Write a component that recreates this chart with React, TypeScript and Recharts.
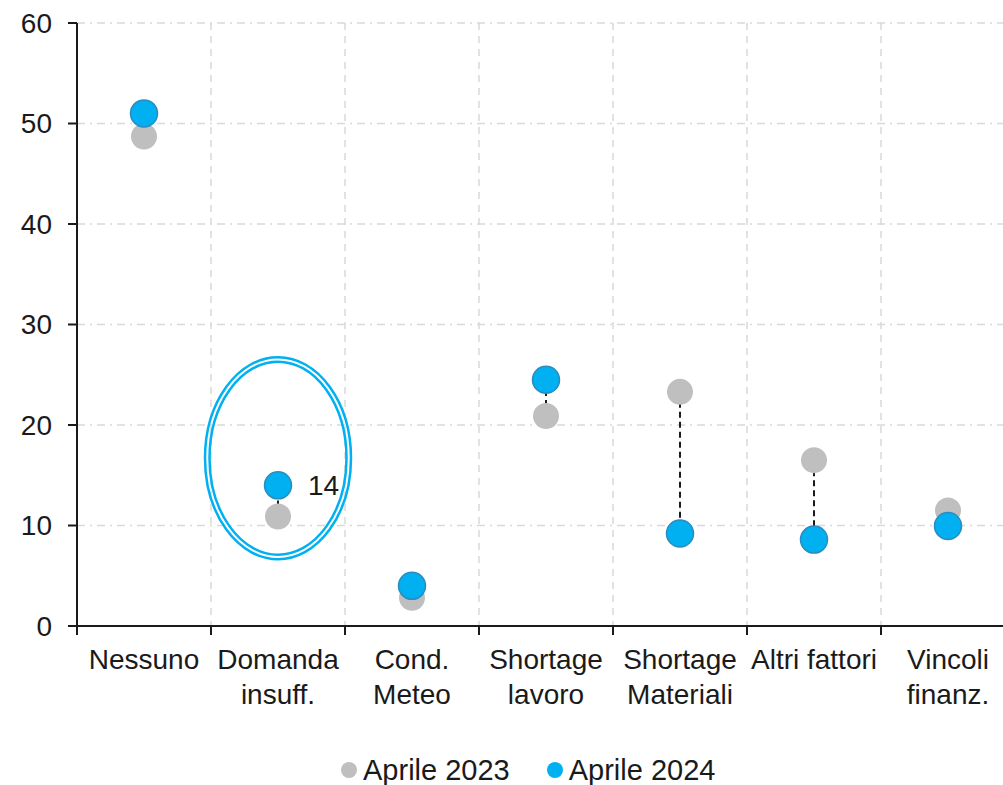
import { CartesianGrid, ReferenceDot, Scatter, ScatterChart, XAxis, YAxis } from "recharts";

const CATEGORIES = [
  ["Nessuno"],
  ["Domanda", "insuff."],
  ["Cond.", "Meteo"],
  ["Shortage", "lavoro"],
  ["Shortage", "Materiali"],
  ["Altri fattori"],
  ["Vincoli", "finanz."],
];
const APR_2023 = [48.7, 10.9, 2.8, 20.9, 23.3, 16.5, 11.5];
const APR_2024 = [51.0, 14.0, 4.0, 24.5, 9.2, 8.6, 9.95];
const LABELS_2024 = ["", "14", "", "", "", "", ""];
const Y_TICKS = [0, 10, 20, 30, 40, 50, 60];
const X_TICKS = [0, 1, 2, 3, 4, 5, 6, 7];
const HIGHLIGHT = { x: 1.5, y: 16.7 };

const GRAY = "#bfbfbf";
const BLUE = "#00b0f0";
const INK = "#1a1a1a";
const GRID = "#d9d9d9";
const FONT = "'Liberation Sans', Arial, sans-serif";

const W = 1015;
const H = 785;
const Y_W = 77;
const BAND = (W - Y_W) / CATEGORIES.length;

const d2023 = APR_2023.map((y, i) => ({ x: i + 0.5, y }));
const d2024 = APR_2024.map((y, i) => ({ x: i + 0.5, y, label: LABELS_2024[i] }));
const links = APR_2023.map((y, i) => [
  { x: i + 0.5, y },
  { x: i + 0.5, y: APR_2024[i] },
]);

function XTick({ x, y, payload }: any) {
  const lines = CATEGORIES[payload.value];
  if (!lines) return null;
  return (
    <text x={x + BAND / 2} y={y} textAnchor="middle" fontSize={28} fill={INK} fontFamily={FONT}>
      {lines.map((l, i) => (
        <tspan key={i} x={x + BAND / 2} dy={i === 0 ? 34 : 35}>{l}</tspan>
      ))}
    </text>
  );
}

const GrayDot = ({ cx, cy }: any) => <circle cx={cx} cy={cy} r={13} fill={GRAY} />;
const BlueDot = ({ cx, cy, payload }: any) => (
  <g>
    <circle cx={cx} cy={cy} r={13.5} fill={BLUE} stroke="#2a8cbf" strokeWidth={1.5} />
    {payload?.label ? (
      <text x={cx + 30} y={cy} dominantBaseline="central" fontSize={28} fill={INK} fontFamily={FONT}>
        {payload.label}
      </text>
    ) : null}
  </g>
);
const Ellipses = ({ cx, cy }: any) => (
  <g fill="none" stroke={BLUE} strokeWidth={2.5}>
    <ellipse cx={cx} cy={cy} rx={73} ry={101} />
    <ellipse cx={cx} cy={cy} rx={68.5} ry={96.5} />
  </g>
);

function LegendItem({ color, label, gap }: { color: string; label: string; gap: number }) {
  return (
    <span style={{ display: "inline-flex", alignItems: "center", marginRight: gap }}>
      <span style={{ width: 16, height: 16, borderRadius: 8, background: color, marginRight: 6 }} />
      {label}
    </span>
  );
}

export default function App() {
  return (
    <div style={{ position: "absolute", left: 0, top: 0, width: 1003, height: H, overflow: "hidden", background: "#fff", fontFamily: FONT }}>
      <ScatterChart width={W} height={H} margin={{ top: 23, right: 0, left: 0, bottom: 99 }}>
        <CartesianGrid xAxisId="x" horizontal={false} stroke={GRID} strokeWidth={1.5} strokeDasharray="7 6" />
        <CartesianGrid xAxisId="x" vertical={false} stroke={GRID} strokeWidth={1.5} strokeDasharray="8 5 2 5" />
        <XAxis
          xAxisId="x"
          type="number"
          dataKey="x"
          domain={[0, 7]}
          ticks={X_TICKS}
          interval={0}
          height={60}
          tickSize={9}
          tickMargin={0}
          tick={<XTick />}
          axisLine={{ stroke: INK, strokeWidth: 2 }}
          tickLine={{ stroke: INK, strokeWidth: 2 }}
        />
        <YAxis
          type="number"
          dataKey="y"
          domain={[0, 60]}
          ticks={Y_TICKS}
          width={Y_W}
          tickSize={9}
          tickMargin={16}
          tick={{ fontSize: 28, fill: INK, fontFamily: FONT }}
          axisLine={{ stroke: INK, strokeWidth: 2 }}
          tickLine={{ stroke: INK, strokeWidth: 2 }}
        />
        {links.map((pts, i) => (
          <Scatter
            key={i}
            xAxisId="x"
            data={pts}
            line={{ stroke: INK, strokeWidth: 2, strokeDasharray: "6 4" }}
            shape={() => <g />}
            isAnimationActive={false}
          />
        ))}
        <Scatter xAxisId="x" name="Aprile 2023" data={d2023} fill={GRAY} shape={<GrayDot />} isAnimationActive={false} />
        <Scatter xAxisId="x" name="Aprile 2024" data={d2024} fill={BLUE} shape={<BlueDot />} isAnimationActive={false} />
        <ReferenceDot xAxisId="x" x={HIGHLIGHT.x} y={HIGHLIGHT.y} shape={<Ellipses />} />
      </ScatterChart>
      <div
        style={{
          position: "absolute",
          top: 752,
          left: 341,
          fontSize: 29,
          lineHeight: "36px",
          color: INK,
          display: "flex",
          alignItems: "center",
          whiteSpace: "nowrap",
        }}
      >
        <LegendItem color={GRAY} label="Aprile 2023" gap={37} />
        <LegendItem color={BLUE} label="Aprile 2024" gap={0} />
      </div>
    </div>
  );
}
